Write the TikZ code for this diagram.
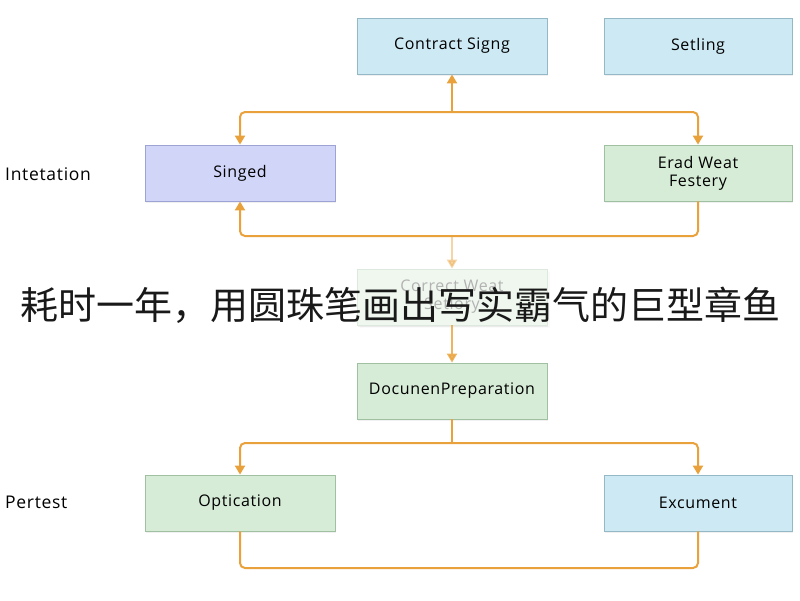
\documentclass[tikz,border=0pt]{standalone}
\usepackage{fontspec}
\setmainfont{Open Sans}
\newfontfamily\boxfont[LetterSpace=4]{Open Sans}
\newfontfamily\cjk{Noto Sans CJK SC}
\usepackage{tikz}
\usetikzlibrary{arrows.meta,shadows}

\definecolor{flowor}{HTML}{E9A23B}
\definecolor{boxblue}{HTML}{CDE9F3}
\definecolor{lineblue}{HTML}{94B8C6}
\definecolor{boxlav}{HTML}{D1D5F8}
\definecolor{linelav}{HTML}{9EA3D6}
\definecolor{boxgreen}{HTML}{D6ECD7}
\definecolor{linegreen}{HTML}{9FC1A2}

\tikzset{
  stepbox/.style={draw, line width=0.8pt, minimum width=190pt, minimum height=56pt,
    align=center, inner sep=2pt, font=\boxfont\fontsize{16}{18}\selectfont,
    drop shadow={opacity=0.12, shadow xshift=1pt, shadow yshift=-1.5pt}},
  bluebox/.style={stepbox, fill=boxblue, draw=lineblue},
  lavbox/.style={stepbox, fill=boxlav, draw=linelav},
  greenbox/.style={stepbox, fill=boxgreen, draw=linegreen},
  conn/.style={draw=flowor, line width=2pt, rounded corners=5pt},
  tip/.style={-{Triangle[width=10pt,length=9pt]}},
  twotip/.style={{Triangle[width=10pt,length=9pt]}-{Triangle[width=10pt,length=9pt]}},
  sidelabel/.style={anchor=west, inner sep=0pt, font=\boxfont\fontsize{17.5}{20}\selectfont}
}

\begin{document}
\begin{tikzpicture}[x=1pt,y=-1pt]
  \useasboundingbox (0,0) rectangle (800,600);

  % top row
  \draw (452,46) node[bluebox] (contract) {Contract Signg};
  \draw (698,46) node[bluebox, minimum width=188pt] (setling) {Setling};

  % second row
  \draw (5,174) node[sidelabel] (intet) {Intetation};
  \draw (240,173) node[lavbox] (singed) {Singed};
  \draw (698,173) node[greenbox, minimum width=188pt] (erad) {Erad Weat\\Festery};

  % faded middle box
  \draw (452,297) node[stepbox, fill=boxgreen!40, draw=linegreen!35, text=black!30,
    drop shadow={opacity=0.04}] (faint) {Correct Weat\\Setlory};

  \draw (452,391) node[greenbox] (docprep) {DocunenPreparation};

  % bottom row
  \draw (5,502) node[sidelabel] (pertest) {Pertest};
  \draw (240,503) node[greenbox] (optic) {Optication};
  \draw (698,503) node[bluebox, minimum width=188pt] (excum) {Excument};

  \coordinate (topj) at (452,112);
  \coordinate (midj) at (452,236);
  \coordinate (lowj) at (452,443);
  \coordinate (botj) at (452,568);

  \draw[conn, tip] (topj) -- (contract.south);
  \draw[conn, twotip] (singed.north) |- (topj) -| (erad.north);
  \draw[conn, tip] (erad.south) |- (midj) -| (singed.south);
  \draw[conn, tip, draw opacity=0.45, fill opacity=0.45] (midj) -- (faint.north);
  \draw[conn, tip, draw opacity=0.8, fill opacity=0.8] (faint.south) -- (docprep.north);
  \draw[conn] (docprep.south) -- (lowj);
  \draw[conn, twotip] (optic.north) |- (lowj) -| (excum.north);
  \draw[conn] (optic.south) |- (botj) -| (excum.south);

  % overlaid caption
  \draw (400,305) node[font=\cjk\fontsize{38}{40}\selectfont, text=black!90] (caption)
    {耗时一年，用圆珠笔画出写实霸气的巨型章鱼};
\end{tikzpicture}
\end{document}
